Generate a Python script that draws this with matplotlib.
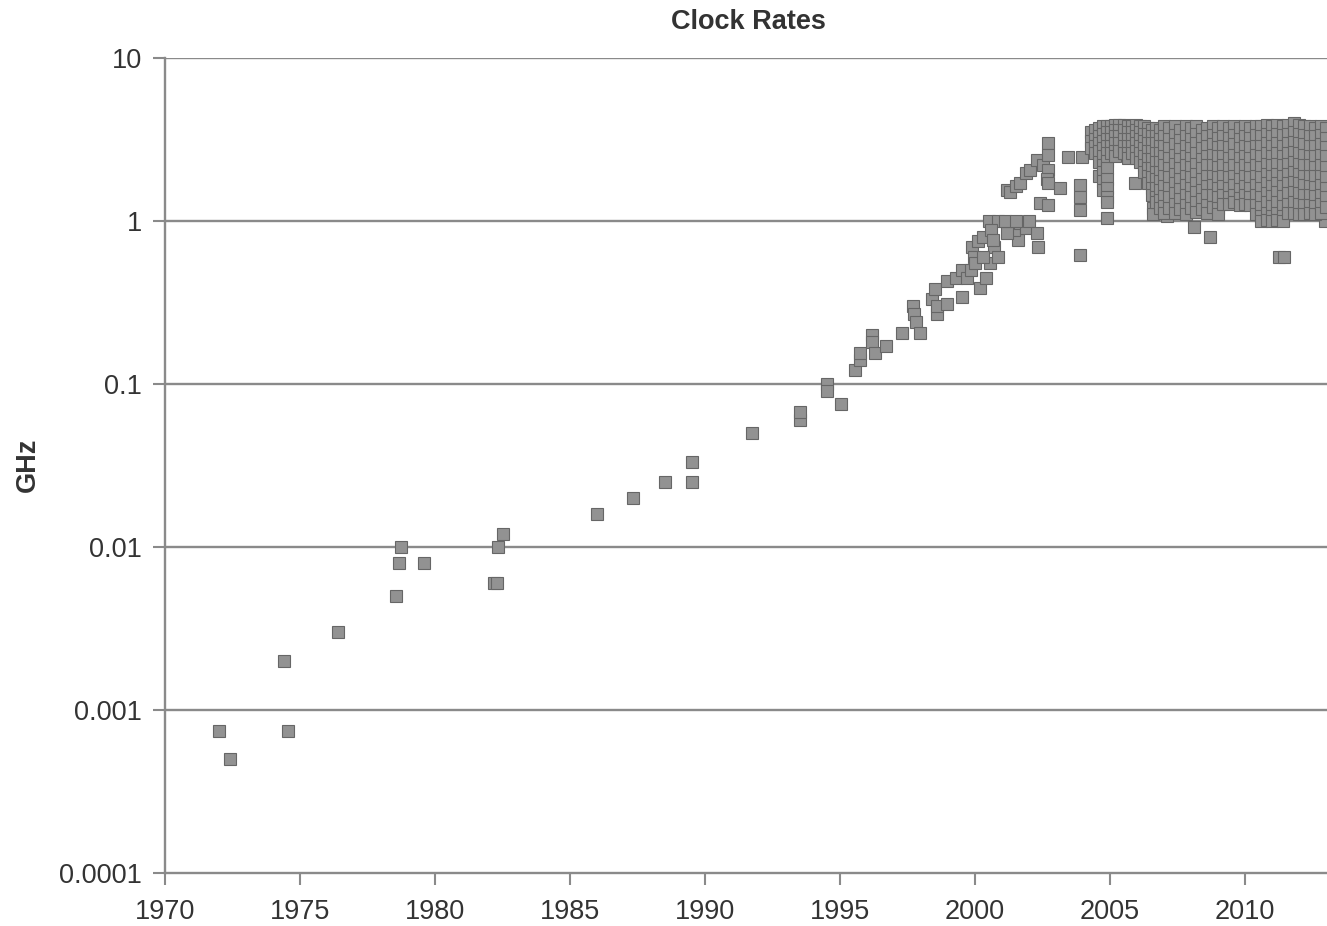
import numpy as np
import matplotlib
matplotlib.use("Agg")
import matplotlib.pyplot as plt

plt.rcParams["font.family"] = ["Liberation Sans", "DejaVu Sans"]

# early processors, 1970-1995
early_years = [1972.0, 1972.4, 1974.4, 1974.55, 1976.4, 1978.55, 1978.65, 1978.75,
               1979.6, 1982.2, 1982.3, 1982.35, 1982.5, 1986.0, 1987.35, 1988.5,
               1989.5, 1989.5, 1991.75, 1993.5, 1993.5, 1994.5, 1994.5, 1995.05]
early_ghz = [0.00074, 0.0005, 0.002, 0.00074, 0.003, 0.005, 0.008, 0.01,
             0.008, 0.006, 0.006, 0.01, 0.012, 0.016, 0.02, 0.025,
             0.025, 0.033, 0.05, 0.06, 0.067, 0.1, 0.09, 0.075]

# ramp 1995-2001
ramp_years = [1995.55, 1995.75, 1995.75, 1996.2, 1996.2, 1996.3, 1996.7, 1997.3,
              1997.7, 1997.75, 1997.8, 1997.95, 1998.4, 1998.5, 1998.6, 1998.6,
              1998.95, 1998.95, 1999.3, 1999.5, 1999.5, 1999.7, 1999.85, 1999.9,
              1999.95, 2000.2, 2000.1, 2000.3, 2000.4, 2000.5, 2000.55, 2000.7,
              2000.85, 2000.85, 2000.0, 2000.3, 2000.6, 2000.65]
ramp_ghz = [0.122, 0.14, 0.155, 0.2, 0.18, 0.155, 0.17, 0.205,
            0.3, 0.27, 0.24, 0.205, 0.33, 0.38, 0.27, 0.3,
            0.43, 0.31, 0.45, 0.5, 0.34, 0.45, 0.5, 0.69,
            0.6, 0.39, 0.75, 0.8, 0.45, 1.0, 0.55, 0.69,
            1.0, 0.6, 0.55, 0.6, 0.88, 0.76]

# scattered points 2001-2013
mid_years = [2001.2, 2001.3, 2001.5, 2001.65, 2001.9, 2002.05, 2002.3, 2002.5,
             2002.7, 2002.7, 2002.7, 2002.65, 2002.7, 2002.4, 2002.7, 2003.15,
             2003.45, 2001.6, 2001.45, 2001.65, 2001.9, 2002.0, 2002.3, 2002.35,
             2001.2, 2001.1, 2001.5, 2003.9, 2003.9, 2003.9, 2003.9, 2003.95,
             2004.9, 2005.93, 2006.6, 2006.6, 2007.1, 2008.1, 2008.7, 2011.25,
             2011.45, 2012.95]
mid_ghz = [1.55, 1.5, 1.65, 1.71, 1.97, 2.06, 2.37, 2.2,
           3.0, 2.54, 2.06, 1.8, 1.71, 1.29, 1.25, 1.6,
           2.46, 0.76, 0.88, 0.97, 0.9, 1.0, 0.84, 0.69,
           0.84, 1.0, 1.0, 1.66, 1.4, 1.17, 0.62, 2.46,
           1.04, 1.71, 1.2, 1.1, 1.08, 0.92, 0.8, 0.6,
           0.6, 1.0]

# dense cluster, column by column
clusterA_years = [2004.3, 2004.45, 2004.6, 2004.75, 2004.9, 2005.05, 2005.2, 2005.35,
                  2005.5, 2005.65, 2005.8, 2005.95, 2006.1, 2006.25, 2006.4, 2006.55,
                  2006.7, 2006.85]
clusterA_ghz = [
    [3.5, 3.1, 2.8],
    [3.6, 3.2, 2.9, 2.6],
    [3.7, 3.3, 3.0, 2.7, 2.3, 1.9],
    [3.8, 3.4, 3.1, 2.8, 2.5, 2.2, 2.0, 1.75, 1.55],
    [3.8, 3.5, 3.2, 2.9, 2.6, 2.35, 2.1, 1.8, 1.6, 1.4, 1.3],
    [3.8, 3.5, 3.2, 2.9, 2.6],
    [3.9, 3.6, 3.3, 3.0, 2.7, 2.5],
    [3.9, 3.6, 3.3, 3.0, 2.7],
    [3.9, 3.6, 3.2, 2.9, 2.6],
    [3.8, 3.5, 3.2, 2.9, 2.6, 2.45],
    [3.8, 3.5, 3.2, 2.9, 2.6],
    [3.9, 3.6, 3.3, 3.0, 2.7, 2.45],
    [3.8, 3.5, 3.2, 2.9, 2.6, 2.3],
    [3.8, 3.4, 3.1, 2.8, 2.5, 2.2, 2.0],
    [3.7, 3.4, 3.0, 2.7, 2.4, 2.1, 1.9, 1.7],
    [3.6, 3.3, 3.0, 2.7, 2.4, 2.1, 1.85, 1.6, 1.45],
    [3.7, 3.3, 3.0, 2.6, 2.3, 2.0, 1.8, 1.6, 1.4, 1.3],
    [3.6, 3.2, 2.9, 2.6, 2.3, 2.0, 1.75, 1.55, 1.35, 1.2],
]

clusterB_years = [2007.0, 2007.2, 2007.4, 2007.6, 2007.8, 2008.0, 2008.2, 2008.4,
                  2008.6, 2008.8, 2009.0, 2009.2, 2009.4, 2009.6, 2009.8]
clusterB_ghz = [
    [3.8, 3.3, 2.9, 2.5, 2.2, 1.9, 1.65, 1.42, 1.24, 1.12],
    [3.7, 3.2, 2.8, 2.45, 2.1, 1.85, 1.6, 1.4, 1.2],
    [3.8, 3.35, 2.95, 2.55, 2.25, 1.95, 1.7, 1.48, 1.28, 1.12],
    [3.6, 3.15, 2.75, 2.4, 2.1, 1.8, 1.58, 1.36, 1.18],
    [3.8, 3.3, 2.9, 2.5, 2.2, 1.9, 1.66, 1.44, 1.25, 1.1],
    [3.7, 3.2, 2.8, 2.45, 2.15, 1.85, 1.6, 1.4, 1.2],
    [3.8, 3.4, 3.0, 2.6, 2.25, 1.95, 1.7, 1.5, 1.3, 1.13],
    [3.6, 3.2, 2.8, 2.4, 2.1, 1.8, 1.56, 1.36, 1.18],
    [3.7, 3.3, 2.9, 2.5, 2.2, 1.9, 1.65, 1.45, 1.25, 1.12],
    [3.8, 3.35, 2.95, 2.55, 2.2, 1.9, 1.66, 1.44, 1.22],
    [3.7, 3.25, 2.85, 2.5, 2.15, 1.85, 1.6, 1.4, 1.2, 1.1],
    [3.8, 3.3, 2.9, 2.5, 2.2, 1.9, 1.65, 1.45, 1.28],
    [3.7, 3.25, 2.85, 2.45, 2.1, 1.85, 1.6, 1.4, 1.27],
    [3.8, 3.35, 2.95, 2.55, 2.2, 1.9, 1.66, 1.45, 1.3],
    [3.7, 3.2, 2.8, 2.45, 2.1, 1.82, 1.58, 1.38, 1.26],
]

clusterC_years = [2010.0, 2010.2, 2010.4, 2010.6, 2010.8, 2011.0, 2011.2, 2011.4,
                  2011.6, 2011.8, 2012.0, 2012.2, 2012.4, 2012.6, 2012.8, 2013.0]
clusterC_ghz = [
    [3.8, 3.3, 2.9, 2.5, 2.2, 1.9, 1.65, 1.45, 1.28],
    [3.7, 3.25, 2.85, 2.45, 2.1, 1.85, 1.6, 1.4, 1.25],
    [3.8, 3.35, 2.9, 2.55, 2.2, 1.9, 1.66, 1.45, 1.25, 1.1],
    [3.8, 3.3, 2.9, 2.5, 2.15, 1.85, 1.6, 1.4, 1.22, 1.08, 1.0],
    [3.9, 3.4, 3.0, 2.6, 2.25, 1.95, 1.7, 1.48, 1.3, 1.12, 1.02],
    [3.8, 3.3, 2.9, 2.5, 2.2, 1.9, 1.65, 1.42, 1.24, 1.08, 1.0],
    [3.9, 3.4, 3.0, 2.6, 2.25, 1.95, 1.7, 1.5, 1.3, 1.12, 1.02],
    [3.8, 3.35, 2.9, 2.5, 2.2, 1.9, 1.64, 1.42, 1.24, 1.08, 1.0],
    [3.9, 3.4, 3.0, 2.6, 2.25, 1.95, 1.7, 1.48, 1.28, 1.12],
    [4.0, 3.5, 3.05, 2.65, 2.3, 2.0, 1.74, 1.5, 1.3, 1.12],
    [3.9, 3.4, 3.0, 2.6, 2.25, 1.95, 1.7, 1.48, 1.28, 1.1],
    [3.8, 3.35, 2.95, 2.55, 2.2, 1.9, 1.66, 1.44, 1.25, 1.1],
    [3.8, 3.3, 2.9, 2.5, 2.2, 1.9, 1.65, 1.45, 1.26, 1.12],
    [3.7, 3.3, 2.9, 2.5, 2.15, 1.88, 1.62, 1.42, 1.24, 1.1],
    [3.8, 3.35, 2.95, 2.55, 2.2, 1.9, 1.66, 1.45, 1.27, 1.12],
    [3.7, 3.25, 2.85, 2.5, 2.15, 1.85, 1.6, 1.4, 1.22],
]

x_ticks = [1970, 1975, 1980, 1985, 1990, 1995, 2000, 2005, 2010]
y_ticks = [0.0001, 0.001, 0.01, 0.1, 1, 10]
y_labels = ["0.0001", "0.001", "0.01", "0.1", "1", "10"]


def flatten(col_years, col_ghz):
    xs, ys = [], []
    for yr, vals in zip(col_years, col_ghz):
        xs.extend([yr] * len(vals))
        ys.extend(vals)
    return xs, ys


years = list(early_years) + list(ramp_years) + list(mid_years)
ghz = list(early_ghz) + list(ramp_ghz) + list(mid_ghz)
for cy, cg in [(clusterA_years, clusterA_ghz), (clusterB_years, clusterB_ghz),
               (clusterC_years, clusterC_ghz)]:
    xs, ys = flatten(cy, cg)
    years += xs
    ghz += ys

W, H = 1327, 926
fig = plt.figure(figsize=(W / 100, H / 100), dpi=100)
ax = fig.add_axes([165 / W, (H - 873) / H, (W - 165) / W, (873 - 58) / H])

grey = "#8a8a8a"
ax.set_yscale("log")
ax.set_xlim(1970, 1970 + (W - 165) / 27.0)
ax.set_ylim(0.0001, 10)

for yv in y_ticks[1:]:
    ax.axhline(yv, color=grey, lw=1.7, zorder=1)

ax.plot(years, ghz, linestyle="none", marker="s", markersize=9.0,
        markerfacecolor="#929292", markeredgecolor="#666666",
        markeredgewidth=0.8, zorder=3, clip_on=False)

ax.set_xticks(x_ticks)
ax.set_xticklabels([str(t) for t in x_ticks])
ax.set_yticks(y_ticks)
ax.set_yticklabels(y_labels)
ax.yaxis.set_minor_locator(matplotlib.ticker.NullLocator())
ax.tick_params(axis="both", which="major", length=8.5, width=1.5, color=grey,
               labelsize=19.5, labelcolor="#333333")
ax.tick_params(axis="x", pad=10)
ax.tick_params(axis="y", pad=8)

for side in ["top", "right"]:
    ax.spines[side].set_visible(False)
for side in ["left", "bottom"]:
    ax.spines[side].set_color(grey)
    ax.spines[side].set_linewidth(1.7)

fig.text(748 / W, 1 - 22 / H, "Clock Rates", ha="center", va="center",
         fontsize=19.5, fontweight="bold", color="#333333")
fig.text(28 / W, 1 - 465 / H, "GHz", ha="center", va="center", rotation=90,
         fontsize=19.5, fontweight="bold", color="#333333")

fig.savefig("out.png", dpi=100, facecolor="white")
